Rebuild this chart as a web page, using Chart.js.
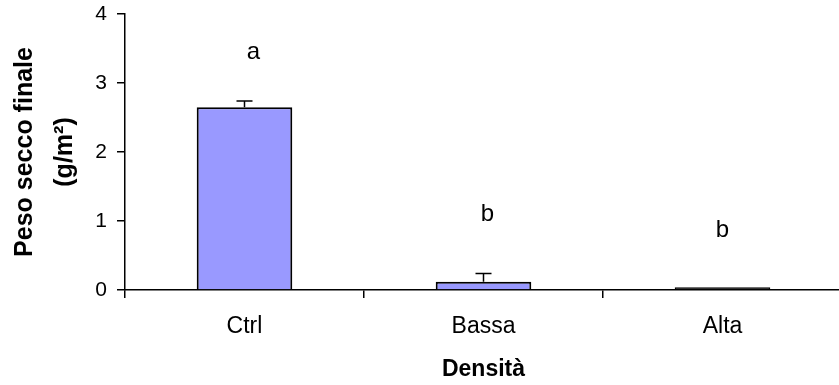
<!DOCTYPE html>
<html>
<head>
<meta charset="utf-8">
<script src="https://cdn.jsdelivr.net/npm/chart.js@4/dist/chart.umd.min.js"></script>
<style>
  html, body { margin: 0; padding: 0; background: #fff; overflow: hidden; }
  #wrap { width: 839px; height: 385px; overflow: hidden; }
  #chart { display: block; }
</style>
</head>
<body>
<div id="wrap"><canvas id="chart" width="850" height="385"></canvas></div>
<script>
// data
const categories = ['Ctrl', 'Bassa', 'Alta'];
const pesoSecco = [2.65, 0.12, 0.04];
const errori = [0.09, 0.12, 0];
const lettere = ['a', 'b', 'b'];
const letterY = [3.45, 1.09, 0.87];
const yTicks = [0, 1, 2, 3, 4];

const FONT = "Arial, 'Liberation Sans', sans-serif";

// error bars (upper half only) + significance letters
const extrasPlugin = {
    id: 'extras',
    afterDatasetsDraw(chart) {
        const ctx = chart.ctx;
        const x = chart.scales.x;
        const y = chart.scales.y;
        ctx.save();
        ctx.strokeStyle = '#000';
        ctx.lineWidth = 1.5;
        pesoSecco.forEach((v, i) => {
            if (!errori[i]) return;
            const px = x.getPixelForValue(i);
            const top = y.getPixelForValue(v + errori[i]);
            const base = y.getPixelForValue(v);
            ctx.beginPath();
            ctx.moveTo(px, base);
            ctx.lineTo(px, top);
            ctx.moveTo(px - 8, top);
            ctx.lineTo(px + 8, top);
            ctx.stroke();
        });
        ctx.fillStyle = '#000';
        ctx.font = '24px ' + FONT;
        ctx.textAlign = 'center';
        ctx.textBaseline = 'middle';
        const shift = [9, 4, 0];
        lettere.forEach((t, i) => {
            ctx.fillText(t, x.getPixelForValue(i) + shift[i], y.getPixelForValue(letterY[i]));
        });
        ctx.restore();
    }
};

new Chart(document.getElementById('chart'), {
    type: 'bar',
    data: {
        labels: categories,
        datasets: [{
            data: pesoSecco,
            // a bar thinner than its outline shows up as just the black outline
            backgroundColor: c => (c.raw < 0.08 ? '#000' : '#9999FF'),
            borderColor: '#000',
            borderWidth: 2,
            barPercentage: 0.4,
            categoryPercentage: 1
        }]
    },
    options: {
        responsive: false,
        animation: false,
        events: [],
        layout: { padding: { top: 0, right: 8, left: 0, bottom: 0 } },
        plugins: { legend: { display: false }, tooltip: { enabled: false } },
        scales: {
            x: {
                grid: { offset: true, drawOnChartArea: false, tickLength: 8, color: '#000', lineWidth: 1.5 },
                border: { color: '#000', width: 1.5 },
                ticks: { color: '#000', padding: 15, font: { family: FONT, size: 23 } },
                title: {
                    display: true, text: 'Densità', color: '#000',
                    font: { family: FONT, size: 23, weight: 'bold' },
                    padding: { top: 0, bottom: 2 }
                },
                afterFit(scale) { scale.height = 95; }
            },
            y: {
                min: 0, max: 4,
                afterBuildTicks(scale) { scale.ticks = yTicks.map(v => ({ value: v })); },
                grid: { drawOnChartArea: false, tickLength: 8, color: '#000', lineWidth: 1.5 },
                border: { color: '#000', width: 1.5 },
                ticks: { color: '#000', padding: 10, font: { family: FONT, size: 21 } },
                title: {
                    display: true, text: ['Peso secco finale', '(g/m²)'], color: '#000',
                    font: { family: FONT, size: 25, weight: 'bold', lineHeight: 1.6 },
                    padding: { top: 5, bottom: 0 }
                },
                afterFit(scale) {
                    scale.width = 125;
                    scale.paddingTop = 14;
                    scale.paddingBottom = 0;
                }
            }
        }
    },
    plugins: [extrasPlugin]
});
</script>
</body>
</html>
